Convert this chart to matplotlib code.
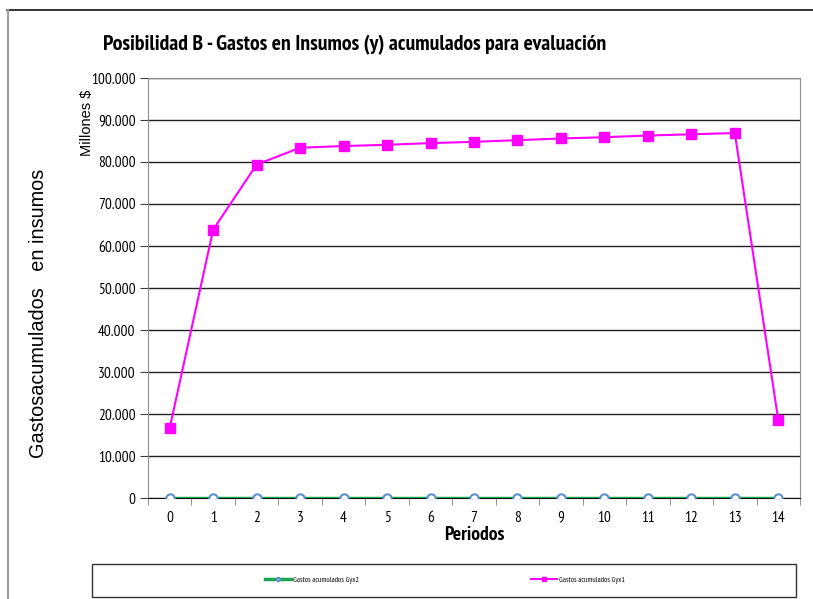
import matplotlib
matplotlib.use("Agg")
import matplotlib.pyplot as plt
from matplotlib.lines import Line2D
from matplotlib.patches import Rectangle

periodos = list(range(15))
gyx1 = [16700, 63900, 79400, 83400, 83800, 84100, 84500, 84800, 85200, 85600, 85900, 86300, 86600, 86900, 18600]
gyx2 = [0] * 15
y_ticks = list(range(0, 100001, 10000))
y_labels = ["0" if v == 0 else f"{v // 1000}.000" for v in y_ticks]

NARROW = ["PT Sans Narrow", "Roboto Condensed", "Liberation Sans", "DejaVu Sans"]
ARIAL = ["Liberation Sans", "DejaVu Sans"]

fig = plt.figure(figsize=(8.13, 5.99), dpi=100)
fig.patch.set_facecolor("white")
ax = fig.add_axes([148 / 813, 101 / 599, 652 / 813, 420 / 599])

ax.plot(periodos, gyx2, color="#1aa64e", lw=2.5, marker="o", ms=6,
        mfc="white", mec="#5b8fd0", mew=1.5, label="Gastos acumulados Gyx2", zorder=3)
ax.plot(periodos, gyx1, color="#ff00ff", lw=1.5, marker="s", ms=7,
        mfc="#ff00ff", mec="#ff00ff", label="Gastos acumulados Gyx1", zorder=4)

ax.set_xlim(-0.5, 14.5)
ax.set_ylim(0, 100000)
ax.set_yticks(y_ticks)
ax.set_yticklabels(y_labels, fontfamily=NARROW, fontsize=11)
ax.set_xticks(periodos)
ax.set_xticklabels([str(p) for p in periodos], fontfamily=NARROW, fontsize=11)
ax.set_xticks([p - 0.5 for p in periodos] + [14.5], minor=True)
ax.tick_params(axis="x", which="major", length=0, pad=9)
ax.tick_params(axis="x", which="minor", length=5, color="#808080")
ax.tick_params(axis="y", length=6, color="#404040", pad=3)

ax.grid(axis="y", color="#222222", lw=1)
ax.set_axisbelow(True)
for side in ("left", "right", "top"):
    ax.spines[side].set_color("#909090")
ax.spines["bottom"].set_color("#111111")

ax.set_xlabel("Periodos", fontfamily=NARROW, fontsize=14, fontweight="bold", labelpad=1)
fig.text(87 / 813, 1 - 123 / 599, "Millones $", rotation=90, ha="center", va="center",
         fontfamily=ARIAL, fontsize=10.5)
fig.text(38 / 813, 1 - 313 / 599, "Gastosacumulados   en insumos", rotation=90,
         ha="center", va="center", fontfamily=ARIAL, fontsize=14.3)
fig.text(103 / 813, 1 - 45 / 599, "Posibilidad B - Gastos en Insumos (y) acumulados para evaluación",
         ha="left", va="center", fontfamily=NARROW, fontsize=15.7, fontweight="bold")

# outer chart frame
fig.add_artist(Line2D([7 / 813, 1], [1 - 10 / 599] * 2, color="#111111", lw=1.2))
fig.add_artist(Line2D([8 / 813] * 2, [0, 1 - 10 / 599], color="#a0a0a0", lw=1.5))

# legend box
fig.add_artist(Rectangle((92 / 813, 2 / 599), 704 / 813, 33 / 599, fill=False,
                         edgecolor="#333333", lw=1, transform=fig.transFigure))
leg = fig.legend(loc="center", bbox_to_anchor=(445 / 813, 1 - 580 / 599), ncol=2,
                 frameon=False, prop={"family": NARROW, "size": 5.5},
                 handlelength=3.4, handletextpad=0.3, columnspacing=22.5, markerscale=0.4)

fig.savefig("out.png", dpi=100, facecolor="white")
